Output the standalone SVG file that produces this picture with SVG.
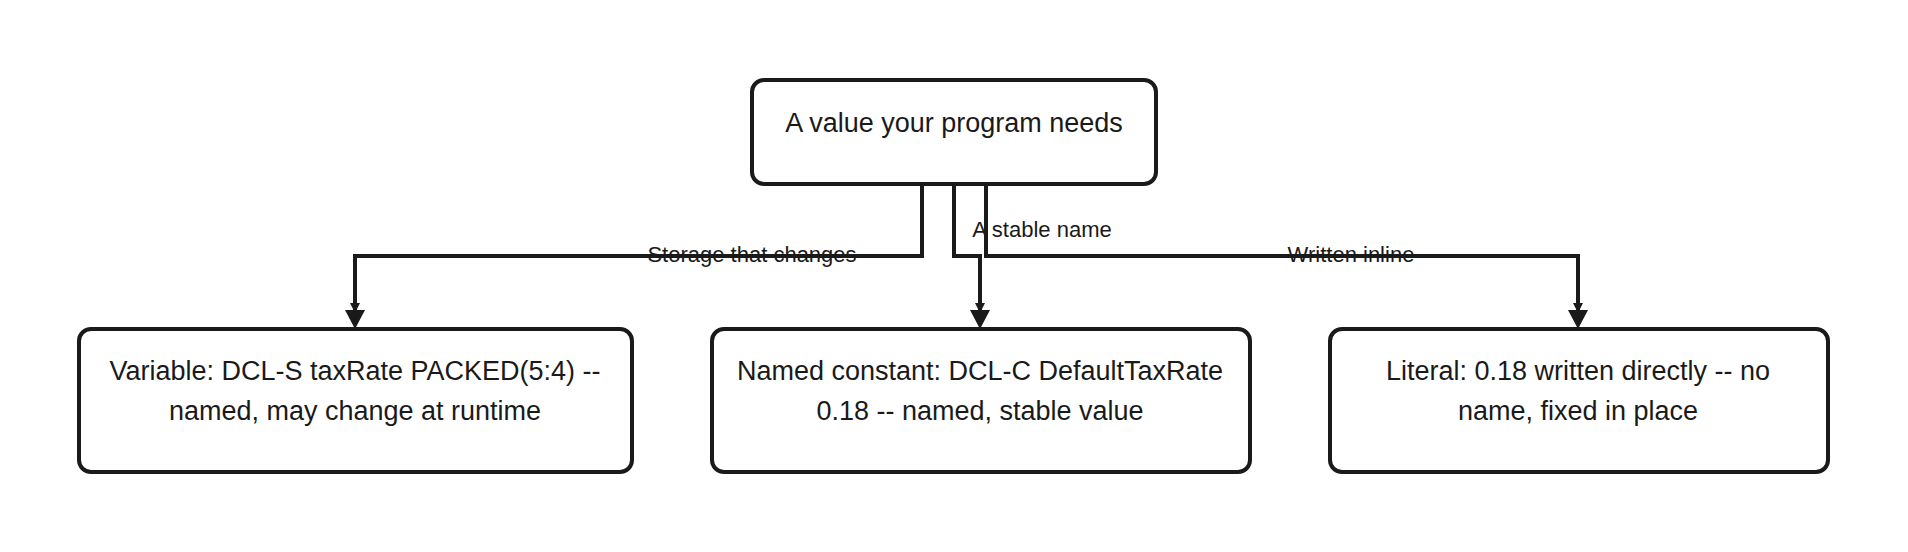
<svg xmlns="http://www.w3.org/2000/svg" width="1908" height="552" viewBox="0 0 1908 552">
<defs>
<marker id="ah" markerWidth="10" markerHeight="10" refX="9" refY="5" orient="auto" markerUnits="userSpaceOnUse" viewBox="0 0 10 10"><path d="M0,0 L10,5 L0,10 z" fill="#1a1a1a"/></marker>
<style>
.n{fill:#fff;stroke:#1a1a1a;stroke-width:4}
.t{font-family:"Liberation Sans",Arial,sans-serif;font-size:27px;fill:#1a1a1a;text-anchor:middle}
.l{font-family:"Liberation Sans",Arial,sans-serif;font-size:22px;fill:#1a1a1a;text-anchor:middle}
.c{fill:none;stroke:#1a1a1a;stroke-width:4}
</style>
</defs>
<rect width="1908" height="552" fill="#fff"/>
<g id="connectors">
<path class="c" d="M922,184 V256 H355 V312" marker-end="url(#ah)"/>
<path class="c" d="M954,184 V256 H980 V312" marker-end="url(#ah)"/>
<path class="c" d="M986,184 V256 H1578 V312" marker-end="url(#ah)"/>
<marker id="ah2"/>
<path d="M345,310 L365,310 L355,329 z" fill="#1a1a1a"/>
<path d="M970,310 L990,310 L980,329 z" fill="#1a1a1a"/>
<path d="M1568,310 L1588,310 L1578,329 z" fill="#1a1a1a"/>
<text class="l" x="752" y="262">Storage that changes</text>
<text class="l" x="1042" y="237">A stable name</text>
<text class="l" x="1351" y="262">Written inline</text>
</g>
<g id="root"><rect class="n" x="752" y="80" width="404" height="104" rx="12"/><text class="t" x="954" y="132">A value your program needs</text></g>
<g id="variable"><rect class="n" x="79" y="329" width="553" height="143" rx="12"/><text class="t" x="355" y="380">Variable: DCL-S taxRate PACKED(5:4) --</text><text class="t" x="355" y="420">named, may change at runtime</text></g>
<g id="constant"><rect class="n" x="712" y="329" width="538" height="143" rx="12"/><text class="t" x="980" y="380">Named constant: DCL-C DefaultTaxRate</text><text class="t" x="980" y="420">0.18 -- named, stable value</text></g>
<g id="literal"><rect class="n" x="1330" y="329" width="498" height="143" rx="12"/><text class="t" x="1578" y="380">Literal: 0.18 written directly -- no</text><text class="t" x="1578" y="420">name, fixed in place</text></g>
</svg>
